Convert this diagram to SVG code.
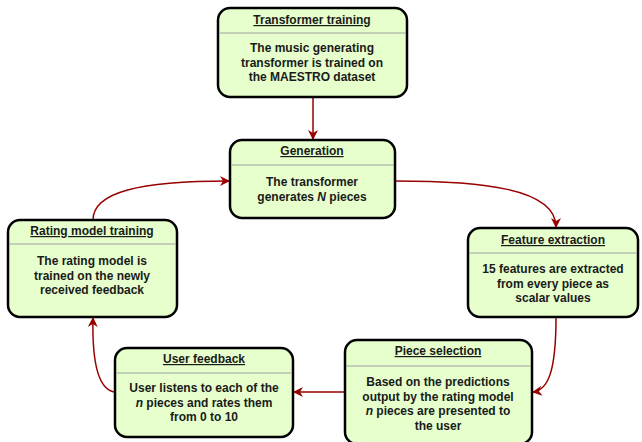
<svg xmlns="http://www.w3.org/2000/svg" width="642" height="442" viewBox="0 0 642 442">
<defs>
<style>
.box{fill:#e6ffcc;stroke:#000;stroke-width:2.5}
.sep{stroke:#a0a0a0;stroke-width:1}
.t{font-family:"Liberation Sans",Arial,sans-serif;font-weight:bold;font-size:12px;fill:#1a1a1a;text-anchor:middle}
.h{text-decoration:underline}
.c{fill:none;stroke:#990000;stroke-width:1.5}
</style>
<marker id="ah" viewBox="0 0 10 10" refX="9" refY="5" markerWidth="10" markerHeight="10" markerUnits="userSpaceOnUse" orient="auto">
<path d="M0,0 L10,5 L0,10 L3,5 Z" fill="#990000"/>
</marker>
</defs>
<rect width="642" height="442" fill="#fff"/>
<g id="connectors">
<path class="c" d="M313,97 L313,139" marker-end="url(#ah)"/>
<path class="c" d="M395,181 C480,181 556,188 556,227" marker-end="url(#ah)"/>
<path class="c" d="M556,317 C556,372 548,390 533,392" marker-end="url(#ah)"/>
<path class="c" d="M345,392 L294,392" marker-end="url(#ah)"/>
<path class="c" d="M115,392 C98,390 92,362 93,318" marker-end="url(#ah)"/>
<path class="c" d="M93,220 C93,192 140,181 229,181" marker-end="url(#ah)"/>
</g>
<g id="transformer-training">
<rect class="box" x="218" y="8" width="189" height="89" rx="12"/>
<line class="sep" x1="219" y1="33" x2="406" y2="33"/>
<text class="t h" x="312" y="24">Transformer training</text>
<text class="t" x="312" y="52">The music generating</text>
<text class="t" x="312" y="66.5">transformer is trained on</text>
<text class="t" x="312" y="81">the MAESTRO dataset</text>
</g>
<g id="generation">
<rect class="box" x="230" y="140" width="165" height="78" rx="12"/>
<line class="sep" x1="231" y1="165" x2="394" y2="165"/>
<text class="t h" x="312" y="155">Generation</text>
<text class="t" x="312" y="186">The transformer</text>
<text class="t" x="312" y="200.5">generates <tspan font-style="italic">N</tspan> pieces</text>
</g>
<g id="rating-model-training">
<rect class="box" x="8" y="220" width="169" height="97" rx="12"/>
<line class="sep" x1="9" y1="244" x2="176" y2="244"/>
<text class="t h" x="92" y="235">Rating model training</text>
<text class="t" x="92" y="265">The rating model is</text>
<text class="t" x="92" y="279.5">trained on the newly</text>
<text class="t" x="92" y="294">received feedback</text>
</g>
<g id="feature-extraction">
<rect class="box" x="468" y="228" width="170" height="89" rx="12"/>
<line class="sep" x1="469" y1="253" x2="637" y2="253"/>
<text class="t h" x="553" y="244">Feature extraction</text>
<text class="t" x="553" y="273">15 features are extracted</text>
<text class="t" x="553" y="287.5">from every piece as</text>
<text class="t" x="553" y="302">scalar values</text>
</g>
<g id="piece-selection">
<rect class="box" x="345" y="340" width="187" height="104" rx="12"/>
<line class="sep" x1="346" y1="366" x2="531" y2="366"/>
<text class="t h" x="438" y="355">Piece selection</text>
<text class="t" x="438" y="386">Based on the predictions</text>
<text class="t" x="438" y="400.5">output by the rating model</text>
<text class="t" x="438" y="415"><tspan font-style="italic">n</tspan> pieces are presented to</text>
<text class="t" x="438" y="429.5">the user</text>
</g>
<g id="user-feedback">
<rect class="box" x="115" y="348" width="178" height="89" rx="12"/>
<line class="sep" x1="116" y1="373" x2="292" y2="373"/>
<text class="t h" x="204" y="363">User feedback</text>
<text class="t" x="204" y="392">User listens to each of the</text>
<text class="t" x="204" y="406.5"><tspan font-style="italic">n</tspan> pieces and rates them</text>
<text class="t" x="204" y="421">from 0 to 10</text>
</g>
</svg>
